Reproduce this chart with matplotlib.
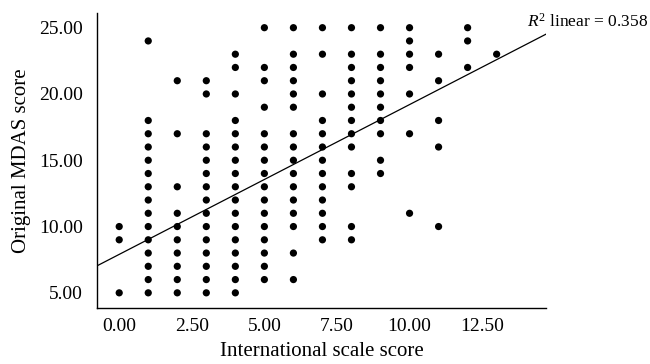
import numpy as np
import matplotlib.pyplot as plt

plt.rcParams['font.family'] = ['Liberation Serif', 'DejaVu Serif']
plt.rcParams['mathtext.fontset'] = 'custom'
plt.rcParams['mathtext.rm'] = 'Liberation Serif'
plt.rcParams['mathtext.it'] = 'Liberation Serif:italic'

# y values of the visible points at each international scale score
x_scores = [0, 1, 2, 3, 4, 5, 6, 7, 8, 9, 10, 11, 12, 13]
mdas_at_x = [
    [5, 9, 10],
    [24, 18, 17, 16, 15, 14, 13, 12, 11, 10, 9, 8, 7, 6, 5],
    [21, 17, 13, 11, 10, 9, 8, 7, 6, 5],
    [21, 20, 17, 16, 15, 14, 13, 12, 11, 10, 9, 8, 7, 6, 5],
    [23, 22, 20, 18, 17, 16, 15, 14, 13, 12, 11, 10, 9, 8, 7, 6, 5],
    [25, 22, 21, 19, 17, 16, 15, 14, 13, 12, 11, 10, 9, 8, 7, 6],
    [25, 23, 22, 21, 20, 19, 17, 16, 15, 14, 13, 12, 11, 10, 8, 6],
    [25, 23, 20, 18, 17, 16, 15, 14, 13, 12, 11, 10, 9],
    [25, 23, 22, 21, 20, 19, 18, 17, 16, 14, 13, 10, 9],
    [25, 23, 22, 21, 20, 19, 18, 17, 15, 14],
    [25, 24, 23, 22, 20, 17, 11],
    [23, 21, 18, 16, 10],
    [25, 24, 22],
    [23],
]

# fit line as drawn in the figure
fit_intercept = 7.9
fit_slope = 1.13
r2 = 0.358

xs = []
ys = []
for xv, yl in zip(x_scores, mdas_at_x):
    for yv in yl:
        xs.append(xv)
        ys.append(yv)

fig = plt.figure(figsize=(6.5, 3.64), dpi=100)
ax = fig.add_axes([0.149, 0.154, 0.691, 0.81])

ax.scatter(xs, ys, s=27, color='black', edgecolors='none', zorder=3)

x_min, x_max = -0.77, 14.7
y_min, y_max = 3.86, 26.1
line_x = np.array([x_min, x_max])
ax.plot(line_x, fit_intercept + fit_slope * line_x, color='black', lw=0.9)

ax.set_xlim(x_min, x_max)
ax.set_ylim(y_min, y_max)

ax.set_xticks([0, 2.5, 5, 7.5, 10, 12.5])
ax.set_xticklabels(['0.00', '2.50', '5.00', '7.50', '10.00', '12.50'])
ax.set_yticks([5, 10, 15, 20, 25])
ax.set_yticklabels(['5.00', '10.00', '15.00', '20.00', '25.00'])
ax.tick_params(length=0, labelsize=14)
ax.tick_params(axis='x', pad=7)
ax.tick_params(axis='y', pad=10)

for side in ['top', 'right']:
    ax.spines[side].set_visible(False)
for side in ['left', 'bottom']:
    ax.spines[side].set_linewidth(1.0)

ax.set_xlabel('International scale score', fontsize=15, labelpad=5)
ax.set_ylabel('Original MDAS score', fontsize=15, labelpad=6)

fig.text(0.997, 0.94, r'$R^2$ linear = %.3f' % r2, ha='right', va='center', fontsize=12.5)

fig.savefig('out.png', dpi=100)
